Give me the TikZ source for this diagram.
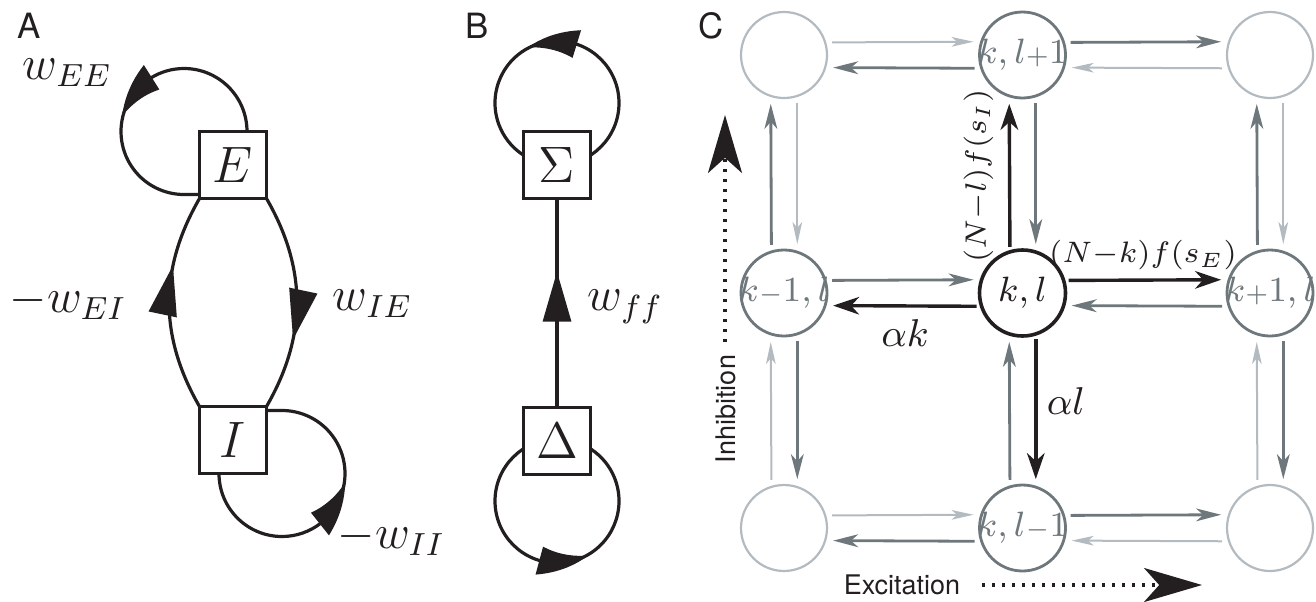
\RequirePackage{fix-cm}
\documentclass[tikz,border=0pt]{standalone}
\usepackage{fontspec}
\newfontfamily\hv{TeX Gyre Heros}
\usetikzlibrary{arrows.meta,bending,calc,decorations.markings}
\definecolor{ink}{HTML}{231F20}
\definecolor{lightc}{HTML}{B3BBC0}
\definecolor{medc}{HTML}{6E777B}
\pgfdeclarelayer{bg}
\pgfsetlayers{bg,main}
\tikzset{
  boxn/.style={draw=ink, line width=0.75pt, fill=white, minimum size=16.75pt, inner sep=0pt, outer sep=0pt, text=ink, font=\fontsize{12.8}{15}\selectfont},
  lp/.style={draw=ink, color=ink, line width=0.8pt},
  bigtip/.style={-{Triangle[length=12.5pt,width=7pt,bend]}},
  midarrow/.style={postaction={decorate}, decoration={markings, mark=at position #1 with {\arrow{Triangle[length=12.5pt,width=7pt]}}}},
  wlab/.style={anchor=base west, inner sep=0pt, text=ink, font=\fontsize{12}{14}\selectfont},
  panel/.style={anchor=base west, inner sep=0pt, text=ink, font=\hv\fontsize{8.7}{10}\selectfont},
  sans/.style={inner sep=0pt, text=ink, font=\hv\fontsize{6.75}{8}\selectfont},
  cn/.style={circle, minimum size=21.5pt, inner sep=0pt, outer sep=0pt, font=\fontsize{8.8}{10}\selectfont},
  lc/.style={cn, draw=lightc, line width=0.55pt},
  mc/.style={cn, draw=medc, text=medc, line width=0.7pt},
  kc/.style={cn, draw=ink, text=ink, line width=0.9pt},
  la/.style={draw=lightc, line width=0.5pt, -{Stealth[length=5.5pt,width=2.4pt,inset=1.4pt]}, shorten <=1.75pt, shorten >=2pt},
  ma/.style={draw=medc, line width=0.7pt, -{Stealth[length=6.25pt,width=3.2pt,inset=1.8pt]}, shorten <=1.75pt, shorten >=2pt},
  ka/.style={draw=ink, line width=0.85pt, -{Stealth[length=6.5pt,width=4.4pt,inset=2pt]}, shorten <=1.25pt, shorten >=2pt},
  clab/.style={inner sep=0pt, text=ink, font=\fontsize{7.4}{9}\selectfont},
  alab/.style={inner sep=0pt, text=ink, font=\fontsize{9.7}{11}\selectfont},
  dotarr/.style={draw=ink, line width=0.8pt, dash pattern=on 0.8pt off 1.7pt, -{Stealth[length=14.5pt,width=8.5pt,inset=3.8pt]}}
}
\begin{document}
\begin{tikzpicture}[x=0.25pt,y=0.25pt]
\useasboundingbox (0,0) rectangle (1316,-601);

% ---------- Panel A ----------
\node[panel] (labA) at (17,-38) {A};
\node[boxn] (E) at (233,-165) {$E$};
\node[boxn] (I) at (233,-440) {$I$};
\coordinate (Ec) at ($(E.north)+(-49,0)$);
\coordinate (Ic) at ($(I.south)+(49,0)$);
\begin{pgfonlayer}{bg}
  \draw[lp, bigtip] ($(E.north)+(14,0)$) arc[start angle=0, end angle=166, radius=63];
  \draw[lp] ($(Ec)+(158:63)$) arc[start angle=158, end angle=270, radius=63] -- ++(18,0);
  \draw[lp, bigtip] ($(I.south)+(-14,0)$) arc[start angle=180, end angle=352, radius=63];
  \draw[lp] ($(Ic)+(344:63)$) arc[start angle=344, end angle=450, radius=63] -- ++(-18,0);
\end{pgfonlayer}
\draw[lp, midarrow=0.67] (I.north west) to[out=120, in=240] (E.south west);
\draw[lp, midarrow=0.67] (E.south east) to[out=-60, in=60] (I.north east);
\node[wlab] (wEE) at (22,-79) {$w_{EE}$};
\node[wlab] (wEI) at (9,-312) {$-w_{EI}$};
\node[wlab] (wIE) at (332,-310) {$w_{IE}$};
\node[wlab] (wII) at (337,-548) {$-w_{II}$};

% ---------- Panel B ----------
\node[panel] (labB) at (465,-38) {B};
\node[boxn] (S) at (557,-165) {$\Sigma$};
\node[boxn] (D) at (557,-441) {$\Delta$};
\coordinate (Sc) at ($(S.center)+(0,62)$);
\coordinate (Dc) at ($(D.center)+(0,-60)$);
\begin{pgfonlayer}{bg}
  \draw[lp, bigtip] ($(Sc)+(270:62)$) arc[start angle=270, end angle=478, radius=62];
  \draw[lp] ($(Sc)+(110:62)$) arc[start angle=110, end angle=270, radius=62];
  \draw[lp, bigtip] ($(Dc)+(90:62)$) arc[start angle=90, end angle=300, radius=62];
  \draw[lp] ($(Dc)+(292:62)$) arc[start angle=292, end angle=450, radius=62];
\end{pgfonlayer}
\draw[lp, midarrow=0.65] (D.north) -- (S.south);
\node[wlab] (wff) at (587,-310) {$w_{ff}$};

% ---------- Panel C ----------
\node[panel] (labC) at (698,-38) {C};
\node[lc] (c11) at (784,-55) {};
\node[mc] (c12) at (1022.5,-55) {\makebox[0pt]{$k,l{\scriptstyle +}1$}};
\node[lc] (c13) at (1270,-55) {};
\node[mc] (c21) at (784,-293) {\makebox[0pt]{$k{\scriptstyle -}1,l$}};
\node[kc] (c22) at (1022.5,-293) {\makebox[0pt]{$k,l$}};
\node[mc] (c23) at (1270,-293) {\makebox[0pt]{$k{\scriptstyle +}1,l$}};
\node[lc] (c31) at (784,-528) {};
\node[mc] (c32) at (1022.5,-528) {\makebox[0pt]{$k,l{\scriptstyle -}1$}};
\node[lc] (c33) at (1270,-528) {};

% rows
\draw[la] (c11.17.5) -- (c12.162.5);
\draw[ma] (c12.-162.5) -- (c11.-17.5);
\draw[ma] (c12.17.5) -- (c13.162.5);
\draw[la] (c13.-162.5) -- (c12.-17.5);
\draw[ma] (c21.17.5) -- (c22.162.5);
\draw[ka] (c22.-162.5) -- (c21.-17.5);
\draw[ka] (c22.17.5) -- (c23.162.5);
\draw[ma] (c23.-162.5) -- (c22.-17.5);
\draw[la] (c31.17.5) -- (c32.162.5);
\draw[ma] (c32.-162.5) -- (c31.-17.5);
\draw[ma] (c32.17.5) -- (c33.162.5);
\draw[la] (c33.-162.5) -- (c32.-17.5);
% columns
\draw[ma] (c21.107.5) -- (c11.252.5);
\draw[la] (c11.-72.5) -- (c21.72.5);
\draw[la] (c31.107.5) -- (c21.252.5);
\draw[ma] (c21.-72.5) -- (c31.72.5);
\draw[ka] (c22.107.5) -- (c12.252.5);
\draw[ma] (c12.-72.5) -- (c22.72.5);
\draw[ma] (c32.107.5) -- (c22.252.5);
\draw[ka] (c22.-72.5) -- (c32.72.5);
\draw[ma] (c23.107.5) -- (c13.252.5);
\draw[la] (c13.-72.5) -- (c23.72.5);
\draw[la] (c33.107.5) -- (c23.252.5);
\draw[ma] (c23.-72.5) -- (c33.72.5);

% labels
\node[clab, anchor=south] (lNk) at (1143,-271) {$(N{-}k)f(s_E)$};
\node[clab, rotate=90, anchor=south] (lNl) at (994,-176) {$(N{-}l)f(s_I)$};
\node[alab] (lak) at (905,-333) {$\alpha k$};
\node[alab] (lal) at (1066,-401) {$\alpha l$};

% axes
\coordinate (inhA) at (725,-342);
\coordinate (inhB) at (725,-115);
\draw[dotarr] (inhA) -- (inhB);
\node[sans, rotate=90] (inh) at (726,-409) {Inhibition};
\coordinate (excA) at (982,-585);
\coordinate (excB) at (1202,-585);
\draw[dotarr] (excA) -- (excB);
\node[sans] (exc) at (902,-585) {Excitation};
\end{tikzpicture}
\end{document}
